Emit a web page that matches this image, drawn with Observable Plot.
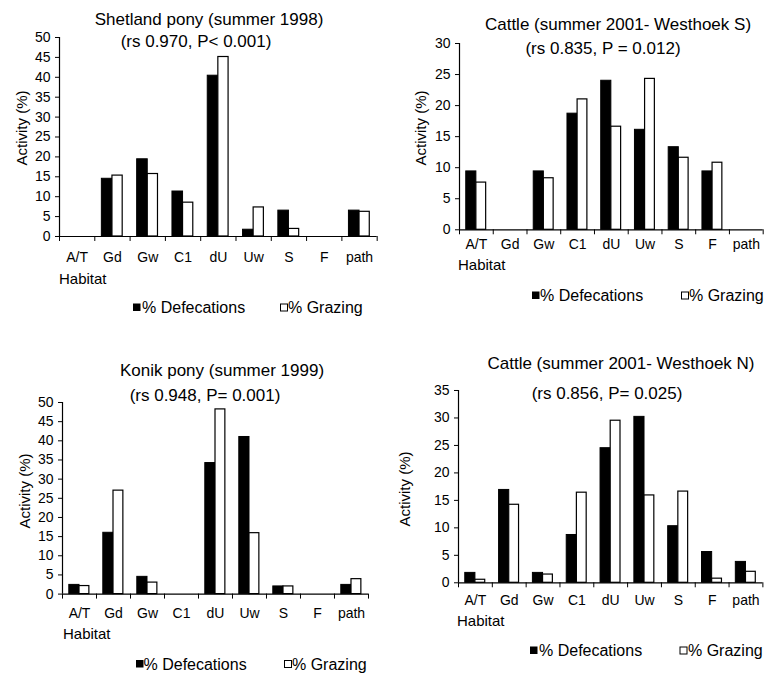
<!DOCTYPE html>
<html>
<head>
<meta charset="utf-8">
<script src="https://cdn.jsdelivr.net/npm/d3@7"></script>
<script src="https://cdn.jsdelivr.net/npm/@observablehq/plot@0.6"></script>
<style>
  body { margin: 0; background: #fff; }
  #root { position: relative; width: 767px; height: 673px; overflow: hidden; background: #fff;
          font-family: "Liberation Sans", Arial, sans-serif; color: #000; }
  .plotbox { position: absolute; }
  #overlay { position: absolute; left: 0; top: 0; pointer-events: none; }
</style>
</head>
<body>
<div id="root"></div>
<script>
// ---- data ----
const habitats = ["A/T", "Gd", "Gw", "C1", "dU", "Uw", "S", "F", "path"];
const seriesNames = ["% Defecations", "% Grazing"];

const shetlandDefecations = [0, 14.5, 19.4, 11.3, 40.4, 1.7, 6.5, 0, 6.5];
const shetlandGrazing     = [0, 15.3, 15.7, 8.5, 45.1, 7.3, 1.9, 0, 6.2];

const cattleSDefecations  = [9.4, 0, 9.4, 18.7, 24.0, 16.1, 13.3, 9.4, 0];
const cattleSGrazing      = [7.6, 0, 8.3, 21.0, 16.6, 24.3, 11.6, 10.8, 0];

const konikDefecations    = [2.4, 16.0, 4.5, 0, 34.2, 41.0, 2.0, 0, 2.4];
const konikGrazing        = [2.1, 27.0, 3.0, 0, 48.2, 15.9, 2.0, 0, 3.9];

const cattleNDefecations  = [1.8, 16.9, 1.8, 8.7, 24.5, 30.2, 10.3, 5.6, 3.8];
const cattleNGrazing      = [0.55, 14.2, 1.5, 16.4, 29.5, 15.9, 16.6, 0.75, 2.0];

const titles = ["Shetland pony (summer 1998)", "Cattle (summer 2001- Westhoek S)",
                "Konik pony (summer 1999)", "Cattle (summer 2001- Westhoek N)"];
const stats  = ["(rs 0.970, P< 0.001)", "(rs 0.835, P = 0.012)",
                "(rs 0.948, P= 0.001)", "(rs 0.856, P= 0.025)"];
const yMaxima = [50, 30, 50, 35];
const yLabel = "Activity (%)";
const xLabel = "Habitat";

// ---- layout (pixels) ----
const layouts = [
  {fL: 59,    fR: 376.7, fT: 37,    fB: 236,   tPad: 16,   t1: [209, 25],  t2: [196, 47],    yl: [27, 128],  hab: [59, 283.5],  leg: [133, 142, 280, 288, 313]},
  {fL: 459,   fR: 762.7, fT: 42.7,  fB: 229,   tPad: 9.5,  t1: [618, 30],  t2: [603, 53.5],  yl: [426, 128], hab: [458, 269.7], leg: [532, 540, 681, 689, 301]},
  {fL: 61.7,  fR: 367.7, fT: 401.7, fB: 593.3, tPad: 13.5, t1: [222, 376], t2: [205, 400.5], yl: [30, 491],  hab: [63, 638.7],  leg: [136, 143.5, 284, 292, 669.5]},
  {fL: 458.3, fR: 762.7, fT: 390,   fB: 582.3, tPad: 12.5, t1: [621, 369], t2: [607, 399],   yl: [410, 489], hab: [457, 626.4], leg: [530, 539, 679.5, 688, 656]}
];

const panels = [
  [shetlandDefecations, shetlandGrazing],
  [cattleSDefecations, cattleSGrazing],
  [konikDefecations, konikGrazing],
  [cattleNDefecations, cattleNGrazing]
];

const root = document.getElementById("root");
const mL = 60, mR = 4, mT = 10, mB = 34;

panels.forEach(([def, graz], p) => {
  const L = layouts[p];
  const ymax = yMaxima[p];
  const defData = habitats.map((h, i) => ({i, h, v: def[i]})).filter(d => d.v > 0);
  const grzData = habitats.map((h, i) => ({i, h, v: graz[i]})).filter(d => d.v > 0);
  const w = (L.fR - L.fL) + mL + mR;
  const h = (L.fB - L.fT) + mT + mB;
  const svg = Plot.plot({
    width: w, height: h,
    marginLeft: mL, marginRight: mR, marginTop: mT, marginBottom: mB,
    style: {fontFamily: "'Liberation Sans', Arial, sans-serif", fontSize: "14px",
            background: "transparent", overflow: "visible", color: "#000"},
    x: {type: "linear", domain: [0, habitats.length], axis: null},
    y: {domain: [0, ymax], axis: null},
    marks: [
      Plot.rect(defData, {x1: d => d.i + 0.2, x2: d => d.i + 0.5, y1: 0, y2: "v",
                          fill: "#000", stroke: "#000", strokeWidth: 1}),
      Plot.rect(grzData, {x1: d => d.i + 0.5, x2: d => d.i + 0.79, y1: 0, y2: "v",
                          fill: "#fff", stroke: "#000", strokeWidth: 1.2}),
      Plot.ruleY([0], {stroke: "#000", strokeWidth: 1.2}),
      Plot.ruleX([0], {y1: 0, y2: ymax, stroke: "#000", strokeWidth: 1.2}),
      Plot.axisY({ticks: d3.range(0, ymax + 1, 5), tickSize: 4, tickPadding: 5, label: null}),
      Plot.axisX({ticks: d3.range(0, habitats.length + 1), tickSize: 5, tickFormat: () => "", label: null}),
      Plot.axisX({ticks: habitats.map((_, i) => i + 0.5), tickSize: 0, tickPadding: L.tPad,
                  tickFormat: d => habitats[Math.floor(d)], label: null})
    ]
  });
  const box = document.createElement("div");
  box.className = "plotbox";
  box.style.left = (L.fL - mL) + "px";
  box.style.top = (L.fT - mT) + "px";
  box.appendChild(svg);
  root.appendChild(box);
});

// ---- titles, axis titles and legends ----
const overlay = d3.select(root).append("svg")
  .attr("id", "overlay").attr("width", 767).attr("height", 673)
  .style("font-family", "'Liberation Sans', Arial, sans-serif");

layouts.forEach((L, p) => {
  overlay.append("text").attr("x", L.t1[0]).attr("y", L.t1[1]).attr("text-anchor", "middle")
    .attr("font-size", 17).text(titles[p]);
  overlay.append("text").attr("x", L.t2[0]).attr("y", L.t2[1]).attr("text-anchor", "middle")
    .attr("font-size", 17).text(stats[p]);
  overlay.append("text").attr("transform", `translate(${L.yl[0]},${L.yl[1]}) rotate(-90)`)
    .attr("text-anchor", "middle").attr("font-size", 15).text(yLabel);
  overlay.append("text").attr("x", L.hab[0]).attr("y", L.hab[1]).attr("font-size", 15).text(xLabel);
  const [sq1, tx1, sq2, tx2, by] = L.leg;
  overlay.append("rect").attr("x", sq1).attr("y", by - 9.5).attr("width", 7.5).attr("height", 7.5)
    .attr("fill", "#000");
  overlay.append("text").attr("x", tx1).attr("y", by).attr("font-size", 16).text(seriesNames[0]);
  overlay.append("rect").attr("x", sq2 + 0.5).attr("y", by - 9).attr("width", 7).attr("height", 7)
    .attr("fill", "#fff").attr("stroke", "#000").attr("stroke-width", 1);
  overlay.append("text").attr("x", tx2).attr("y", by).attr("font-size", 16).text(seriesNames[1]);
});
</script>
</body>
</html>
